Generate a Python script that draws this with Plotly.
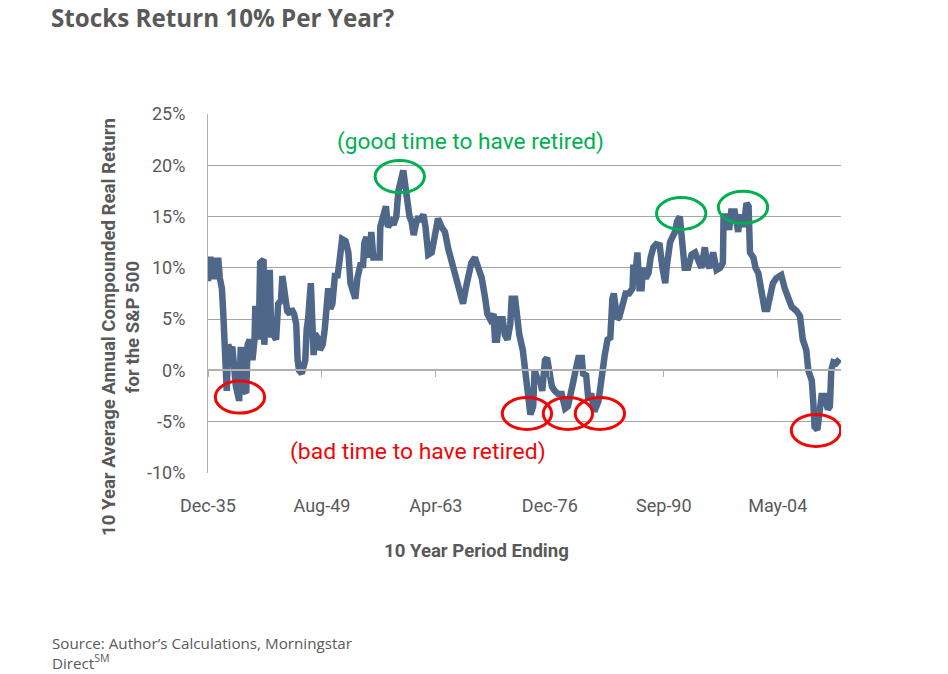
import plotly.graph_objects as go

# months after Dec-1935 (10 year period ending)
months = [0,1,4,6,8,10,15,17,20,22,23,24,27,29,32,35,38,40,44,45,47,49,52,55,57,60,63,64,67,68,71,73,75,80,81,83,86,89,91,94,98,101,105,107,111,114,118,120,124,127,129,131,135,140,142,144,148,150,152,154,159,161,165,168,171,173,176,179,183,186,189,193,198,202,205,208,212,215,220,223,225,228,231,233,235,238,241,247,248,252,256,259,264,267,271,274,278,281,284,287,290,293,296,300,303,305,310,313,317,322,327,331,336,341,346,351,354,358,360,365,367,371,375,379,384,389,394,399,402,406,411,413,416,419,424,427,431,435,437,442,445,448,453,456,459,462,
464,468,470,474,478,481,485,488,492,495,499,504,509,514,518,522,526,529,533,538,540,544,547,552,556,562,565,568,571,575,579,582,584,587,589,592,597,601,606,611,612,616,618,621,624,626,630,634,637,641,645,650,654,658,660,665,672,675,679,682,686,691,696,701,706,710,715,718,722,727,732,737,741,742,746,750,753,758,763,766,771,775,778,780,785,788,792,797,801,805,809,813,818,825,830,835,840,847,852,856,861,864,869,871,873,877,879,883,888,892,895,897,900,904,909]
real_return = [8.7,10.8,10.8,9.5,8.9,10.7,10.7,9.0,8.0,5.5,4.0,2.5,-2.0,2.5,2.0,2.3,-0.5,-1.5,-2.7,-2.7,2.0,2.0,-2.0,-2.2,2.5,3.0,2.0,1.0,3.0,6.0,6.0,3.0,10.5,10.8,2.5,5.0,9.5,9.5,3.5,3.5,3.0,6.5,6.8,9.2,7.5,5.8,5.5,6.0,5.5,4.5,1.0,0.0,-0.3,1.0,4.0,5.0,8.5,2.0,1.5,3.6,3.0,2.0,2.5,4.0,8.0,8.0,6.0,6.5,9.5,9.0,10.5,12.8,12.6,11.5,8.5,8.0,7.0,9.0,10.5,10.0,12.4,13.0,11.5,11.0,13.5,11.0,11.0,11.0,14.0,15.0,16.0,14.0,14.5,14.2,15.0,17.5,18.5,19.5,18.0,16.0,15.0,14.5,13.2,14.5,15.0,14.5,15.2,14.0,11.3,11.5,13.0,14.8,14.0,13.5,11.8,10.5,9.5,9.0,8.0,7.0,6.5,8.0,9.0,10.5,11.0,10.0,9.0,7.0,5.5,5.0,5.5,3.0,3.0,5.0,5.0,3.5,3.0,4.5,7.0,7.0,5.0,3.5,2.0,0.0,-2.5,-4.2,
-4.3,-3.5,0.0,-0.8,-1.0,-2.0,1.0,1.2,0.0,-1.6,-2.0,-2.3,-2.3,-3.7,-3.5,-2.5,-1.0,0.0,1.2,1.2,-0.5,-0.3,-2.5,-2.5,-4.0,-3.0,-1.0,0.8,1.5,3.0,3.2,7.0,7.5,6.0,5.0,5.2,6.5,7.5,7.5,8.0,10.0,10.0,11.5,8.0,8.0,10.0,9.0,9.5,11.0,12.0,12.3,12.2,10.0,8.5,10.0,12.5,13.5,14.5,15.0,12.5,10.0,10.0,11.3,11.5,10.5,10.0,12.0,10.5,10.0,11.5,9.8,10.0,10.5,15.0,15.0,13.7,15.5,15.5,13.5,15.2,14.0,16.3,16.0,11.5,11.0,10.0,9.5,7.5,6.0,6.0,7.5,8.5,9.0,9.3,8.0,7.0,6.2,5.8,5.3,3.0,2.0,0.0,-1.0,-3.0,-5.5,-5.8,-4.0,-2.5,-2.5,-3.8,-3.5,0.0,0.8,0.7,1.1]

tick_months = [0,164,328,492,656,820]
tick_labels = ["Dec-35","Aug-49","Apr-63","Dec-76","Sep-90","May-04"]
y_ticks = [-10,-5,0,5,10,15,20,25]
y_labels = ["-10%","-5%","0%","5%","10%","15%","20%","25%"]

bad_months = [46,459,518,564,875]
bad_values = [-2.6,-4.2,-4.2,-4.2,-5.85]
good_months = [276,681,770]
good_values = [18.9,15.3,15.9]

W, H = 948, 674
L, R, T, B = 208, 841, 114, 473
XMAX = 911
NARROW = "Roboto, Liberation Sans, sans-serif"
GREY = "#595959"

def px(x): return (x - L) / (R - L)
def py(y): return (B - y) / (B - T)

fig = go.Figure()
fig.add_trace(go.Scatter(x=months, y=real_return, mode="lines", xaxis="x", yaxis="y",
                         line=dict(color="#4f6789", width=6.5, shape="linear"),
                         showlegend=False, hoverinfo="skip"))
fig.add_trace(go.Scatter(x=months, y=real_return, mode="lines", xaxis="x2", yaxis="y",
                         line=dict(color="rgba(0,0,0,0)", width=0),
                         showlegend=False, hoverinfo="skip"))

shapes = []
RX, RY = 35.5, 1.56
for m, v, c in [(a, b, "#f20505") for a, b in zip(bad_months, bad_values)] + \
               [(a, b, "#00b050") for a, b in zip(good_months, good_values)]:
    shapes.append(dict(type="circle", xref="x", yref="y", x0=m-RX, x1=m+RX, y0=v-RY, y1=v+RY,
                       line=dict(color=c, width=3), layer="above"))

def note(text, x, y, size, color, family=NARROW, bold=False, anchor="center", angle=0, align="center"):
    return dict(text=f"<b>{text}</b>" if bold else text, xref="paper", yref="paper",
                x=px(x), y=py(y), xanchor=anchor, yanchor="middle", showarrow=False, textangle=angle,
                align=align, font=dict(size=size, color=color, family=family))

annotations = [
    note("Stocks Return 10% Per Year?", 49, 17, 24.2, GREY, "Open Sans", True, "left"),
    note("(good time to have retired)", 470, 141, 22.7, "#00b050"),
    note("(bad time to have retired)", 418, 451, 22.9, "#f20505"),
    note("10 Year Period Ending", 476, 551, 18.6, GREY, NARROW, True),
    note("10 Year Average Annual Compounded Real Return<br>for the S&P 500", 121, 327, 18.6, GREY, NARROW, True, angle=-90),
    note("Source: Author’s Calculations, Morningstar<br>Direct<sup>SM</sup>", 50, 653, 15.2, GREY, "Open Sans", False, "left", align="left"),
]

fig.update_layout(
    width=W, height=H, autosize=False,
    margin=dict(l=L, r=W-R, t=T, b=H-B, pad=0),
    paper_bgcolor="white", plot_bgcolor="white", showlegend=False,
    shapes=shapes, annotations=annotations,
    xaxis=dict(range=[0, XMAX], tickmode="array", tickvals=tick_months, ticktext=tick_labels,
               showgrid=False, zeroline=False, showline=False, ticks="outside", ticklen=16,
               tickcolor="rgba(0,0,0,0)", tickfont=dict(family=NARROW, size=18, color=GREY)),
    xaxis2=dict(range=[0, XMAX], overlaying="x", anchor="free", position=10/35, side="bottom",
                tickmode="array", tickvals=tick_months, ticks="outside", ticklen=6, tickwidth=1,
                tickcolor="#b0b0b0", showticklabels=False, showgrid=False, zeroline=False,
                showline=True, linecolor="#b0b0b0", linewidth=1.5),
    yaxis=dict(range=[-10, 25], tickmode="array", tickvals=y_ticks, ticktext=y_labels,
               showgrid=True, gridcolor="#a6a6a6", gridwidth=1, zeroline=False,
               showline=True, linecolor="#b0b0b0", linewidth=1, ticks="outside", ticklen=18,
               tickcolor="rgba(0,0,0,0)", tickfont=dict(family=NARROW, size=18, color=GREY)),
)
fig.write_html("out.html", config=dict(displayModeBar=False),
               post_script="document.body.style.margin='0';document.body.style.overflow='hidden';")
